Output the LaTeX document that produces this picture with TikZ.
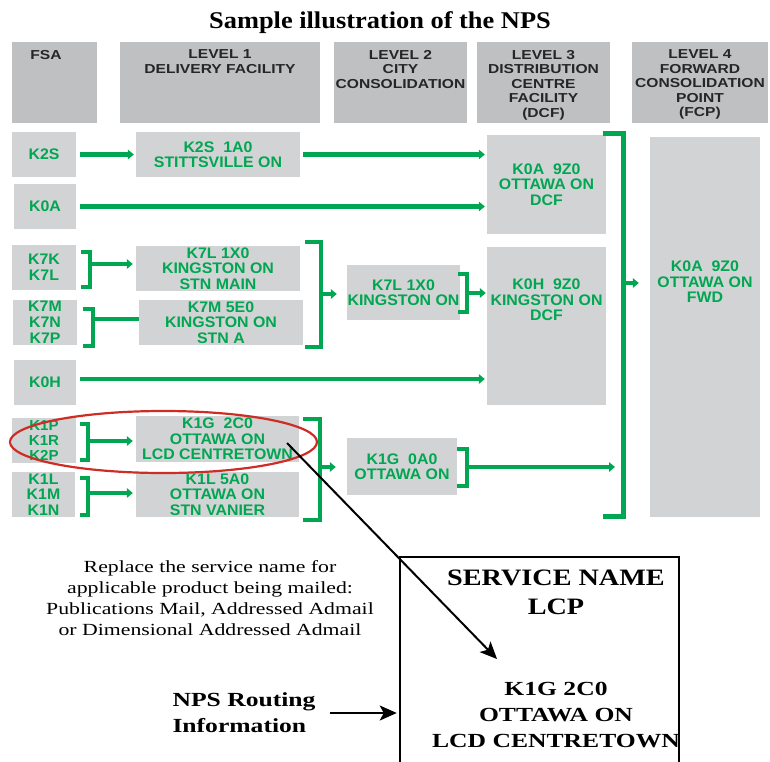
\documentclass[tikz,border=0pt]{standalone}
\usepackage{fontspec}
\setmainfont{Liberation Serif}[FakeStretch=1.28]
\newfontfamily\ttlserif{Liberation Serif}[FakeStretch=1.1]
\newfontfamily\svcserif{Liberation Serif}[FakeStretch=1.2]
\newfontfamily\npssans{Liberation Sans}[FakeStretch=1.04]
\newfontfamily\hdrsans{Liberation Sans}[FakeStretch=1.2]
\usetikzlibrary{positioning, arrows.meta, calc}

\definecolor{npsgreen}{RGB}{0,166,81}
\definecolor{boxgray}{RGB}{209,211,212}
\definecolor{hdrgray}{RGB}{190,192,194}
\definecolor{ringred}{RGB}{206,45,38}

\begin{document}
\begin{tikzpicture}[
    x=1pt, y=-1pt,
    title/.style={inner sep=0pt, font=\ttlserif\bfseries\fontsize{24}{28}\selectfont},
    header/.style={rectangle, fill=hdrgray, inner sep=0pt},
    hdrtext/.style={inner sep=0pt, align=center, text=black!85, font=\hdrsans\bfseries\fontsize{13}{14.5}\selectfont},
    box/.style={rectangle, fill=boxgray, inner sep=0pt, align=center, text=npsgreen, font=\npssans\bfseries\fontsize{15.3}{15.5}\selectfont},
    fsabox/.style={box, font=\npssans\bfseries\fontsize{15.3}{16}\selectfont},
    gtext/.style={inner sep=0pt, align=center, text=npsgreen, font=\npssans\bfseries\fontsize{15.3}{15.5}\selectfont},
    gline/.style={draw=npsgreen, line width=4.5pt},
    garrow/.style={draw=npsgreen, line width=4.2pt, -{Triangle[length=6pt, width=9.5pt]}},
    ring/.style={draw=ringred, line width=2.2pt},
    ptr/.style={draw=black, line width=2pt, -{Stealth[length=17pt, width=15pt, inset=4pt]}},
    tagbox/.style={rectangle, draw=black, line width=2.5pt, inner sep=0pt},
    tagtitle/.style={inner sep=0pt, align=center, font=\svcserif\bfseries\fontsize{23.5}{29}\selectfont},
    tagtext/.style={inner sep=0pt, align=center, font=\bfseries\fontsize{20}{26}\selectfont},
    note/.style={inner sep=0pt, align=center, font=\fontsize{17}{21}\selectfont},
    routing/.style={inner sep=0pt, align=left, font=\bfseries\fontsize{20}{26}\selectfont}
]
\useasboundingbox (0,0) rectangle (770,761);

% Title
\node[title] (ttl) at (380,22.5) {Sample illustration of the NPS};

% Column headers
\node[header, minimum width=85pt, minimum height=81pt] (hfsa) at (54.5,82.5) {};
\node[header, minimum width=200pt, minimum height=81pt] (hlv1) at (220,82.5) {};
\node[header, minimum width=133pt, minimum height=81pt] (hlv2) at (400.5,82.5) {};
\node[header, minimum width=133pt, minimum height=81pt] (hlv3) at (543.5,82.5) {};
\node[header, minimum width=136pt, minimum height=81pt] (hlv4) at (700,82.5) {};

\node[hdrtext, below=8pt of hfsa.north, xshift=-8.5pt] (tfsa) {FSA};
\node[hdrtext, below=8pt of hlv1.north] (tlv1) {LEVEL 1\\DELIVERY FACILITY};
\node[hdrtext, below=8pt of hlv2.north] (tlv2) {LEVEL 2\\CITY\\CONSOLIDATION};
\node[hdrtext, below=8pt of hlv3.north] (tlv3) {LEVEL 3\\DISTRIBUTION\\CENTRE\\FACILITY\\(DCF)};
\node[hdrtext, below=8pt of hlv4.north] (tlv4) {LEVEL 4\\FORWARD\\CONSOLIDATION\\POINT\\(FCP)};

% FSA boxes
\node[fsabox, minimum width=64pt, minimum height=45pt] (k2s) at (44,154.5) {K2S};
\node[fsabox, minimum width=62pt, minimum height=45pt] (k0a) at (45,206.5) {K0A};
\node[fsabox, minimum width=64pt, minimum height=45pt] (k7k) at (44,267.5) {K7K\\K7L};
\node[fsabox, minimum width=64pt, minimum height=45pt] (k7m) at (45,322.5) {K7M\\K7N\\K7P};
\node[fsabox, minimum width=62pt, minimum height=45pt] (k0h) at (45,382.5) {K0H};
\node[fsabox, minimum width=64pt, minimum height=45pt, font=\npssans\bfseries\fontsize{14.5}{14.6}\selectfont] (k1p) at (44,440.5) {K1P\\K1R\\K2P};
\node[fsabox, minimum width=63pt, minimum height=45pt, font=\npssans\bfseries\fontsize{15.3}{15.5}\selectfont] (k1l) at (43.5,494.5) {K1L\\K1M\\K1N};

% Level 1 delivery facilities
\node[box, minimum width=164pt, minimum height=45pt] (stitt) at (218,154.5) {K2S\ \ 1A0\\STITTSVILLE ON};
\node[box, minimum width=164pt, minimum height=45pt] (kmain) at (218,268.5) {K7L 1X0\\KINGSTON ON\\STN MAIN};
\node[box, minimum width=164pt, minimum height=45pt] (kstna) at (221,322.5) {K7M 5E0\\KINGSTON ON\\STN A};
\node[box, minimum width=163pt, minimum height=46pt] (ctown) at (217.5,439) {K1G\ \ 2C0\\OTTAWA ON\\LCD CENTRETOWN};
\node[box, minimum width=163pt, minimum height=45pt] (vanier) at (217.5,494.5) {K1L 5A0\\OTTAWA ON\\STN VANIER};

% Level 2 city consolidation
\node[box, minimum width=113pt, minimum height=55pt] (kcity) at (403.5,292.5) {K7L 1X0\\KINGSTON ON};
\node[box, minimum width=110pt, minimum height=57pt] (kott) at (402,466.5) {K1G\ \ 0A0\\OTTAWA ON};

% Level 3 DCF
\node[box, minimum width=119pt, minimum height=99pt] (dcfott) at (546.5,184.5) {K0A\ \ 9Z0\\OTTAWA ON\\DCF};
\node[box, minimum width=119pt, minimum height=158pt] (dcfking) at (546.5,326) {};
\node[gtext] (tdcfking) at (546.5,300) {K0H\ \ 9Z0\\KINGSTON ON\\DCF};

% Level 4 FCP
\node[box, minimum width=110pt, minimum height=380pt] (fcp) at (705,327) {};
\node[gtext] (tfcp) at (705,282) {K0A\ \ 9Z0\\OTTAWA ON\\FWD};

% Direct flows
\draw[garrow, shorten <=4pt, shorten >=2pt] (k2s) -- (stitt);
\draw[garrow, shorten <=3pt, shorten >=2pt] (stitt.east) -- (stitt.east -| dcfott.west);
\draw[garrow, shorten <=4pt, shorten >=2pt] (k0a.east) -- (k0a.east -| dcfott.west);
\draw[garrow, shorten <=4pt, shorten >=2pt] ([yshift=3.5pt]k0h.east) -- ([yshift=3.5pt]k0h.east -| dcfking.west);

% Kingston brackets
\draw[gline] (81,252) -- (90,252) -- (90,287) -- (81,287);
\coordinate (b7k) at (90,264);
\draw[garrow, shorten >=3pt] (b7k) -- (b7k -| kmain.west);
\draw[gline] (83,309) -- (93,309) -- (93,346) -- (83,346);
\coordinate (b7m) at (93,319);
\draw[gline] (b7m) -- (b7m -| kstna.west);
\draw[gline] (305,242) -- (321,242) -- (321,347) -- (305,347);
\coordinate (bking) at (321,294);
\draw[garrow, shorten >=10pt] (bking) -- (bking -| kcity.west);
\draw[gline] (458,274) -- (467,274) -- (467,312) -- (458,312);
\coordinate (bcity) at (467,293);
\draw[garrow, shorten >=1pt] (bcity) -- (bcity -| dcfking.west);

% Ottawa brackets
\draw[gline] (80,424) -- (88,424) -- (88,460) -- (80,460);
\coordinate (b1p) at (88,441);
\draw[garrow, shorten >=3pt] (b1p) -- (b1p -| ctown.west);
\draw[gline] (80,478) -- (88,478) -- (88,515) -- (80,515);
\coordinate (b1l) at (88,493);
\draw[garrow, shorten >=3pt] (b1l) -- (b1l -| vanier.west);
\draw[gline] (303,419) -- (320,419) -- (320,520) -- (303,520);
\coordinate (bott) at (320,467);
\draw[garrow, shorten >=11pt] (bott) -- (bott -| kott.west);
\draw[gline] (457,449) -- (467,449) -- (467,486) -- (457,486);
\coordinate (bkott) at (467,467);
\coordinate (fwdin) at (623,467);
\draw[garrow, shorten >=8pt] (bkott) -- (fwdin);

% DCF bracket to FCP
\draw[gline, line width=5pt] (603,133) -- (623,133) -- (623,516) -- (603,516);
\coordinate (bfcp) at (623,283);
\draw[garrow, shorten >=11pt] (bfcp) -- (bfcp -| fcp.west);

% Highlight
\draw[ring] (163.5,442) ellipse [x radius=153.5, y radius=31];

% Sample label
\node[tagbox, minimum width=279pt, minimum height=230pt] (tag) at (539.5,672) {};
\node[tagtitle] (svc) at (556,592.5) {SERVICE NAME\\LCP};
\node[tagtext] (route) at (556,715) {K1G 2C0\\OTTAWA ON\\LCD CENTRETOWN};
\node[note] (repl) at (210,598) {Replace the service name for\\applicable product being mailed:\\Publications Mail, Addressed Admail\\or Dimensional Addressed Admail};
\node[routing] (nps) at (244,713) {NPS Routing\\Information};

\coordinate (ptrstart) at (287,443);
\coordinate (ptrend) at (497,659);
\draw[ptr] (ptrstart) -- (ptrend);
\draw[ptr, shorten <=14pt, shorten >=2pt] (nps.east) -- (nps.east -| tag.west);

\end{tikzpicture}
\end{document}
